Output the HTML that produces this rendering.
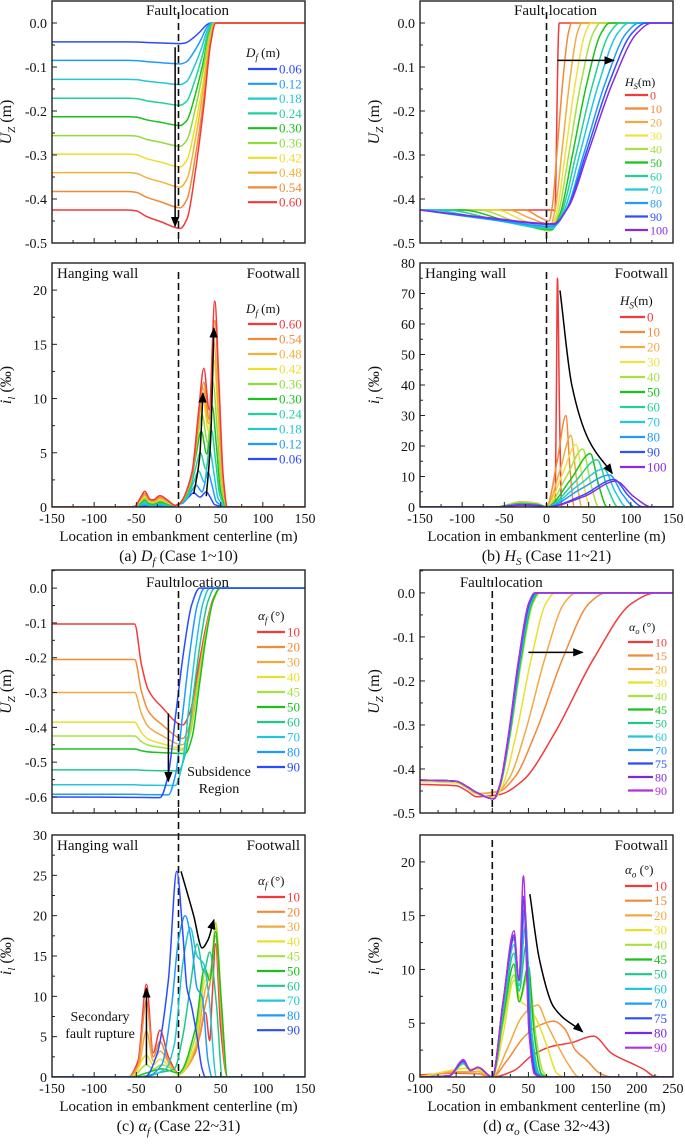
<!DOCTYPE html>
<html><head><meta charset="utf-8">
<style>
html,body{margin:0;padding:0;background:#fff;}
svg, svg text, svg tspan{font-family:"Liberation Serif","Times New Roman",serif;}
</style></head>
<body>
<svg id="fig" width="685" height="1140" viewBox="0 0 685 1140" xmlns="http://www.w3.org/2000/svg" font-family="Liberation Serif, serif">
<defs>
<marker id="ah" viewBox="0 0 10 10" refX="9" refY="5" markerWidth="7" markerHeight="7" orient="auto-start-reverse"><path d="M0,1 L10,5 L0,9 z" fill="#000"/></marker>
</defs>
<rect width="685" height="1140" fill="#fff"/>
</svg>
<script>
// ---------- DATA ----------
const dfLabels=['0.06','0.12','0.18','0.24','0.30','0.36','0.42','0.48','0.54','0.60'];
const aPlateau=[-0.043,-0.085,-0.128,-0.171,-0.213,-0.256,-0.298,-0.340,-0.383,-0.425];
const aMin=[-0.047,-0.093,-0.140,-0.187,-0.233,-0.280,-0.327,-0.373,-0.420,-0.467];
const aZero=[38,39,40,41,42,42,43,43,44,44];
const aP1=[1.3,2.0,3.3,5.0,7.0,8.5,10.0,11.0,11.5,12.8];
const aP1x=[18,21,24,26,27,28,29,29,30,30];
const aP2=[1.4,3.2,5.2,7.1,9.3,11.5,13.5,15.2,17.2,19.0];
const aP2x=[33,35,37,39,40,41,42,42,43,43];
const aHw=[0.1,0.2,0.35,0.5,0.65,0.8,0.95,1.1,1.25,1.45];

const hsLabels=['0','10','20','30','40','50','60','70','80','90','100'];
const bMin=[-0.428,-0.45,-0.458,-0.468,-0.472,-0.470,-0.468,-0.465,-0.462,-0.458,-0.456];
const bMinX=[10,3,5,5,5,6,6,7,8,8,8];
const bZero=[15,30,42,53,64,75,87,98,110,118,125];
const bDrop=[8,-25,-45,-60,-80,-100,-120,-140,-150,-150,-150];
const bPk=[75,30,23.5,20.5,19,17.5,15.5,12.5,10.5,9,8.5];
const bPkX=[13,23,29,35,43,52,60,68,75,80,82];
const bStart=[10,0,0,0,0,0,0,0,0,0,0];
const bEnd=[18,33,42,52,62,72,85,95,105,115,125];
const bShoulder=[35,15,12,11,10,9,8,7,6,4,3.5];
const bHw=[0,1.5,1.7,1.5,1.3,1.2,1.0,0.9,0.8,0.7,0.6];

const afLabels=['10','20','30','40','45','50','60','70','80','90'];
const cPlat=[-0.103,-0.205,-0.300,-0.385,-0.425,-0.462,-0.522,-0.565,-0.592,-0.600];
const cMin=[-0.393,-0.432,-0.450,-0.460,-0.465,-0.475,-0.525,-0.567,-0.594,-0.602];
const cMinX=[5,5,5,5,5,8,0,-4,-12,-22];
const cZero=[50,50,50,50,50,49,43,37,31,25];
const cIl=[
[[-150,0],[-60,0],[-48,2],[-38,11.5],[-30,3],[-22,5.8],[-12,2.5],[0,0.5],[15,2],[25,5],[32,8],[37,4.5],[40,10],[44,16.5],[50,6],[58,0],[150,0]],
[[-150,0],[-60,0],[-48,1.5],[-38,9.5],[-30,2.5],[-22,4.4],[-12,2],[0,0.4],[20,3],[32,9],[38,12],[44,17.5],[50,8],[58,0],[150,0]],
[[-150,0],[-60,0],[-48,1],[-38,5.7],[-30,2],[-22,3.2],[-10,1.5],[0,0.3],[20,3.5],[32,11],[38,13],[44,18.5],[51,8],[58,0],[150,0]],
[[-150,0],[-55,0],[-38,2.7],[-30,1.5],[-22,2.2],[-8,1],[0,0.3],[20,4],[32,12],[38,12],[44,19.2],[51,9],[58,0],[150,0]],
[[-150,0],[-55,0],[-38,1.5],[-30,1],[-20,1.5],[-5,0.8],[0,0.3],[20,5],[32,13],[38,12.5],[44,19],[51,9],[58,0],[150,0]],
[[-150,0],[-55,0],[-38,0.5],[-20,1],[0,0.5],[20,6],[31,13.5],[37,12],[44,18],[51,9],[58,0],[150,0]],
[[-150,0],[-50,0],[-20,0.6],[-5,1],[5,5],[15,12],[22,16.5],[30,13],[37,15.5],[45,9],[52,0],[150,0]],
[[-150,0],[-45,0],[-15,1],[-5,4],[5,14],[14,18.5],[22,15],[30,14],[36,10],[45,0],[150,0]],
[[-150,0],[-40,0],[-20,1.5],[-8,9],[0,17],[8,20],[15,17],[22,11],[28,10],[35,2],[40,0],[150,0]],
[[-150,0],[-40,0],[-25,3],[-12,12],[-2,25.5],[5,18],[10,11],[15,9],[22,5],[28,1],[32,0],[150,0]]
];

const aoLabels=['10','15','20','30','40','45','50','60','70','75','80','90'];
const dLeft=[-0.435,-0.428,-0.428,-0.428,-0.426,-0.425,-0.425,-0.425,-0.425,-0.425,-0.425,-0.425];
const dMin=[-0.458,-0.452,-0.450,-0.465,-0.468,-0.468,-0.468,-0.468,-0.468,-0.468,-0.468,-0.468];
const dMinX=[10,8,8,3,2,2,2,2,2,2,2,2];
const dZero=[226,157,116,87,66,64,63,62,61,60,59,59];
const dIl=[
[[-100,0.2],[-50,0.35],[-20,0.3],[0,0],[30,0.6],[55,2],[80,2.8],[110,3.2],[140,3.8],[165,2.2],[195,1.2],[210,0.7],[225,0.05],[250,0]],
[[-100,0.1],[-50,0.4],[-20,0.3],[0,0],[20,1.5],[45,3.8],[65,4.8],[85,5.2],[100,4.5],[115,2.5],[130,1.6],[150,0.3],[165,0],[250,0]],
[[-100,0.05],[-50,0.5],[-20,0.5],[0,0],[20,2.5],[40,5.5],[55,6.5],[63,6.7],[75,5],[90,3],[105,1.2],[120,0],[250,0]],
[[-100,0],[-50,0.7],[-38,0.8],[-20,0.7],[0,0],[15,4],[30,9],[40,7],[50,6.5],[60,5.5],[75,3],[90,0.3],[100,0],[250,0]],
[[-100,0],[-60,0.1],[-40,1.2],[-30,0.6],[-20,0.9],[0,0],[15,5],[30,9.5],[37,7],[50,9.5],[60,4],[70,0.5],[80,0],[250,0]],
[[-100,0],[-60,0.1],[-40,1.3],[-30,0.6],[-20,0.9],[0,0],[15,5.5],[30,10.5],[37,7],[50,10.3],[58,4],[68,0.3],[78,0],[250,0]],
[[-100,0],[-60,0.1],[-40,1.3],[-30,0.6],[-20,0.9],[0,0],[15,6],[30,11.5],[37,8],[47,12.3],[55,4],[65,0.3],[75,0],[250,0]],
[[-100,0],[-60,0.1],[-40,1.4],[-30,0.6],[-20,0.9],[0,0],[15,6.5],[30,12.3],[37,8.5],[46,14.1],[54,4],[63,0.3],[73,0],[250,0]],
[[-100,0],[-60,0.1],[-40,1.4],[-30,0.6],[-20,0.9],[0,0],[15,7],[30,12.8],[37,9],[45,15.6],[53,4],[62,0.3],[72,0],[250,0]],
[[-100,0],[-60,0.1],[-40,1.5],[-30,0.6],[-20,0.9],[0,0],[15,7],[30,13],[37,9],[44,16.5],[52,4],[60,0.3],[70,0],[250,0]],
[[-100,0],[-60,0.1],[-40,1.5],[-30,0.6],[-20,0.9],[0,0],[15,7],[30,13.2],[37,9],[43,16.8],[51,4],[59,0.3],[69,0],[250,0]],
[[-100,0],[-60,0.1],[-40,1.6],[-30,0.6],[-20,0.9],[0,0],[15,7],[30,13.6],[37,9],[43,18.7],[51,4],[58,0.3],[68,0],[250,0]]
];

const colA=['#2a4bff','#1e9bff','#22c7d6','#1fd19a','#18c21a','#8fdc3a','#eadf2c','#f2b23a','#f28a36','#f23a3a'];
const colB=['#f23a3a','#f28a36','#f2aa40','#f0e040','#a8e040','#18c21a','#22d09a','#22c8e0','#1e9bff','#3050ff','#8a2be2'];
const colC=['#f23a3a','#f28a36','#f2aa40','#eadf2c','#a8e040','#18c21a','#1fc88a','#22c7d6','#1e9bff','#2a4bff'];
const colD=['#f23a3a','#f28a36','#f2aa40','#eadf2c','#a8e040','#18c21a','#1fc88a','#22c7d6','#1e9bff','#2a4bff','#7a2be2','#b030e0'];

// ---------- HELPERS ----------
const NS='http://www.w3.org/2000/svg';
const FONT='Liberation Serif, Times New Roman, serif';
const svg=document.getElementById('fig');
function mk(tag,attrs,parent){const e=document.createElementNS(NS,tag);for(const k in attrs)e.setAttribute(k,attrs[k]);if(tag==='text')e.setAttribute('font-family',FONT);(parent||svg).appendChild(e);return e;}
function txt(str,attrs,parent){const e=mk('text',attrs,parent);e.textContent=str;return e;}
function monoPath(P){
  const n=P.length;if(n<2)return '';
  const dx=[],s=[];
  for(let i=0;i<n-1;i++){dx.push(P[i+1][0]-P[i][0]);s.push((P[i+1][1]-P[i][1])/(dx[i]||1e-6));}
  const m=[s[0]];
  for(let i=1;i<n-1;i++){ if(s[i-1]*s[i]<=0)m.push(0); else m.push(3*(dx[i-1]+dx[i])/((2*dx[i]+dx[i-1])/s[i-1]+(dx[i]+2*dx[i-1])/s[i])); }
  m.push(s[n-2]);
  let d='M'+P[0][0].toFixed(2)+','+P[0][1].toFixed(2);
  for(let i=0;i<n-1;i++){const h=dx[i]/3;
    d+=' C'+(P[i][0]+h).toFixed(2)+','+(P[i][1]+m[i]*h).toFixed(2)+' '+(P[i+1][0]-h).toFixed(2)+','+(P[i+1][1]-m[i+1]*h).toFixed(2)+' '+P[i+1][0].toFixed(2)+','+P[i+1][1].toFixed(2);}
  return d;
}
let clipId=0;
function panel(o){
  const sx=v=>o.x0+(v-o.xd[0])/(o.xd[1]-o.xd[0])*(o.x1-o.x0);
  const sy=v=>o.y1-(v-o.yd[0])/(o.yd[1]-o.yd[0])*(o.y1-o.y0);
  const g=mk('g',{});
  
  
  const cid='c'+(clipId++);
  const cp=mk('clipPath',{id:cid},g);mk('rect',{x:o.x0,y:o.y0,width:o.x1-o.x0,height:o.y1-o.y0},cp);
  const plot=mk('g',{'clip-path':'url(#'+cid+')'},g);
  
  
  for(let v=o.xd[0];v<=o.xd[1]+1e-9;v+=o.xminor){
    const major=Math.abs((v-o.xd[0])%o.xmajor)<1e-6||Math.abs((v-o.xd[0])%o.xmajor-o.xmajor)<1e-6;
    const t=mk('line',{x1:sx(v),x2:sx(v),y1:o.y1,y2:o.y1-(major?5:3),stroke:'#222','stroke-width':1},g);
    
    
    if(major&&o.xlabels){const l=txt(String(Math.round(v)),{x:sx(v),y:o.y1+16,'text-anchor':'middle','font-size':14,fill:'#111'},g);
      
      }
  }
  for(let k=0;k<o.yticks.length;k++){const v=o.yticks[k];
    const t=mk('line',{x1:o.x0,x2:o.x0+5,y1:sy(v),y2:sy(v),stroke:'#222','stroke-width':1},g);
    
    
    const l=txt(o.ylabels[k],{x:o.x0-5,y:sy(v)+5,'text-anchor':'end','font-size':14,fill:'#111'},g);
    
    
    const mv=v+o.ystep/2;
    if(mv<=o.yd[1]){const mt=mk('line',{x1:o.x0,x2:o.x0+3,y1:sy(mv),y2:sy(mv),stroke:'#222','stroke-width':1},g);
      
      }
  }
  return {g,plot,sx,sy,o};
}
function drawSeries(P,series,color,name){
  const path=mk('path',{d:monoPath(series.map(p=>[P.sx(p[0]),P.sy(p[1])])),fill:'none',stroke:color,'stroke-width':1.5},P.plot);
  
  
}
function box(P){
  const o=P.o;
  const r=mk('rect',{x:o.x0,y:o.y0,width:o.x1-o.x0,height:o.y1-o.y0,fill:'none',stroke:'#222','stroke-width':1.4},P.g);
  
  
}
function dashed(P,yTop,yBot){
  const l=mk('line',{x1:P.sx(0),x2:P.sx(0),y1:yTop,y2:yBot,stroke:'#111','stroke-width':1.6,'stroke-dasharray':'7,4'},P.g);
  
  
}
function arrow(P,pts,name){
  const P2=pts.map(p=>[P.sx(p[0]),P.sy(p[1])]);
  let d;
  if(P2.length===2)d='M'+P2[0][0]+','+P2[0][1]+' L'+P2[1][0]+','+P2[1][1];
  else d=monoPath(P2);
  const a=mk('path',{d:d,fill:'none',stroke:'#000','stroke-width':1.5,'marker-end':'url(#ah)'},P.g);
  
  
}
function sym(parent,x,y,main,sub,rest,size,anchor){
  const t=mk('text',{x:x,y:y,'font-size':size,fill:'#111','text-anchor':anchor||'start'},parent);
  const a=mk('tspan',{'font-style':'italic'},t);a.textContent=main;
  const b=mk('tspan',{'font-size':size*0.7,dy:size*0.25,'font-style':'italic'},t);b.textContent=sub;
  const c=mk('tspan',{dy:-size*0.25},t);c.textContent=rest;
  return t;
}
function legend(P,cfg){
  const g=mk('g',{},P.g);
  
  
  const tt=sym(g,cfg.tx,cfg.ty,cfg.main,cfg.sub,cfg.rest,cfg.ts,'start');
  
  
  cfg.order.forEach((idx,k)=>{
    const y=cfg.y0+k*cfg.step;
    const ln=mk('line',{x1:cfg.l0,x2:cfg.l1,y1:y,y2:y,stroke:cfg.colors[idx],'stroke-width':2.2},g);
    
    
    const t=txt(cfg.labels[idx],{x:cfg.l1+2,y:y+4.5,'font-size':cfg.fs,fill:cfg.colors[idx]},g);
    
    
  });
}
function label(P,str,x,y,anchor,size){
  const t=txt(str,{x:x,y:y,'text-anchor':anchor,'font-size':size||15,fill:'#111'},P.g);
  
  
  return t;
}
function yTitle(P,kind){
  const o=P.o,cx=o.x0-41,cy=(o.y0+o.y1)/2;
  const t=mk('text',{x:cx,y:cy,'text-anchor':'middle','font-size':16,fill:'#111',transform:'rotate(-90 '+cx+' '+cy+')'},P.g);
  
  
  const a=mk('tspan',{'font-style':'italic'},t);
  const b=mk('tspan',{'font-size':11,dy:4,'font-style':'italic'},t);
  const c=mk('tspan',{dy:-4},t);
  if(kind==='u'){a.textContent='U';b.textContent='Z';c.textContent=' (m)';}
  else {a.textContent='i';b.textContent='l';c.textContent=' (‰)';}
}
function xTitle(P,caption){
  const o=P.o,cx=(o.x0+o.x1)/2;
  const t=txt('Location in embankment centerline (m)',{x:cx,y:o.y1+34,'text-anchor':'middle','font-size':15,fill:'#111'},P.g);
  
  
  const c=mk('text',{x:cx,y:o.y1+54,'text-anchor':'middle','font-size':16,fill:'#111'},P.g);
  
  
  const s1=mk('tspan',{},c);s1.textContent=caption[0];
  const s2=mk('tspan',{'font-style':'italic'},c);s2.textContent=caption[1];
  const s3=mk('tspan',{'font-size':11,dy:4,'font-style':'italic'},c);s3.textContent=caption[2];
  const s4=mk('tspan',{dy:-4},c);s4.textContent=caption[3];
}
const uLab5=['0.0','-0.1','-0.2','-0.3','-0.4','-0.5'];
const uTick5=[0,-0.1,-0.2,-0.3,-0.4,-0.5];
const range=n=>Array.from({length:n},(_,i)=>i);

// ---------- PANEL (a) ----------
{
const P=panel({name:'panel-a-displacement',x0:52,x1:305,y0:1,y1:243,xd:[-150,150],yd:[-0.5,0.05],xmajor:50,xminor:25,xlabels:false,yticks:uTick5,ylabels:uLab5,ystep:0.1});
range(10).forEach(i=>{
  const p=aPlateau[i],m=aMin[i],d=m-p,z=aZero[i];
  const pts=[[-150,p],[-60,p],[-50,p+0.05*d],[-38,p+0.35*d],[-20,p+0.65*d],[2,m]];
  [0.2,0.43,0.67,0.86,1].forEach((k,j)=>pts.push([2+(z-2)*k,m*[0.95,0.72,0.4,0.1,0][j]]));
  pts.push([z+10,0],[150,0]);
  drawSeries(P,pts,colA[i],'uz-df-'+dfLabels[i]);
});
dashed(P,12,243);
arrow(P,[[-4,-0.055],[-4,-0.462]],'trend-arrow');
label(P,'Fault location',P.sx(0)+9,15,'middle',15);
legend(P,{tx:246,ty:57,main:'D',sub:'f',rest:' (m)',ts:13,y0:69,step:14.8,l0:248,l1:277,fs:13,labels:dfLabels,colors:colA,order:range(10)});
yTitle(P,'u');box(P);
}
{
const P=panel({name:'panel-a-slope',x0:52,x1:305,y0:263,y1:507,xd:[-150,150],yd:[0,22.5],xmajor:50,xminor:25,xlabels:true,yticks:[0,5,10,15,20],ylabels:['0','5','10','15','20'],ystep:5});
range(10).forEach(i=>{
  const hw=aHw[i],p1=aP1[i],p2=aP2[i],x1=aP1x[i],x2=aP2x[i];
  const pts=[[-150,0],[-60,0],[-52,0.05],[-44,hw*0.7],[-40,hw],[-34,hw*0.5],[-30,hw*0.45],[-22,hw*0.72],[-12,hw*0.4],[-4,0.15],[0,0.25],[x1-14,p1*0.25],[x1-6,p1*0.7],[x1,p1],[(x1+x2)/2,0.7*Math.min(p1,p2)],[x2,p2],[x2+5,p2*0.6],[x2+10,p2*0.15],[58,0],[150,0]];
  drawSeries(P,pts,colA[i],'il-df-'+dfLabels[i]);
});
dashed(P,272,507);
arrow(P,[[18,1.2],[25,4.5],[29,10.5]],'trend-arrow-1');
arrow(P,[[33,1.0],[38,6],[42,16.5]],'trend-arrow-2');
label(P,'Hanging wall',57,278,'start',15);
label(P,'Footwall',300,278,'end',15);
legend(P,{tx:246,ty:313,main:'D',sub:'f',rest:' (m)',ts:13,y0:324,step:15,l0:248,l1:277,fs:13,labels:dfLabels,colors:colA,order:range(10).reverse()});
yTitle(P,'i');xTitle(P,['(a) ','D','f',' (Case 1~10)']);box(P);
}

// ---------- PANEL (b) ----------
{
const P=panel({name:'panel-b-displacement',x0:420,x1:673,y0:1,y1:243,xd:[-150,150],yd:[-0.5,0.05],xmajor:50,xminor:25,xlabels:false,yticks:uTick5,ylabels:uLab5,ystep:0.1});
range(11).forEach(i=>{
  const m=bMin[i],xm=bMinX[i],z=bZero[i],dr=bDrop[i],d=m+0.425;
  const pts=[[-150,-0.425]];
  if(dr>-150)pts.push([dr,-0.425]);
  const mid=(Math.max(dr,-150)+xm)/2;
  if(i>0)pts.push([mid,-0.425+0.55*d]);
  pts.push([xm,m]);
  [0.15,0.35,0.6,0.85,1].forEach((k,j)=>pts.push([xm+(z-xm)*k,m*[0.92,0.65,0.3,0.05,0][j]]));
  pts.push([z+8,0],[150,0]);
  drawSeries(P,pts,colB[i],'uz-hs-'+hsLabels[i]);
});
dashed(P,12,243);
arrow(P,[[13,-0.085],[80,-0.085]],'trend-arrow');
label(P,'Fault location',P.sx(0)+9,15,'middle',15);
legend(P,{tx:625,ty:86,main:'H',sub:'S',rest:'(m)',ts:12,y0:95,step:13.5,l0:625,l1:648,fs:12,labels:hsLabels,colors:colB,order:range(11)});
yTitle(P,'u');box(P);
}
{
const P=panel({name:'panel-b-slope',x0:420,x1:673,y0:263,y1:507,xd:[-150,150],yd:[0,80],xmajor:50,xminor:25,xlabels:true,yticks:[0,10,20,30,40,50,60,70,80],ylabels:['0','10','20','30','40','50','60','70','80'],ystep:10});
range(11).forEach(i=>{
  const st=bStart[i],pk=bPk[i],px=bPkX[i],en=bEnd[i],hw=bHw[i];
  const pts=[[-150,0],[-60,0],[-30,hw],[-10,hw*0.7]];
  if(st>0)pts.push([0,0.05]);
  pts.push([st+0.01,0],[st+0.55*(px-st),bShoulder[i]],[px,pk],[px+0.5*(en-px),pk*0.4],[en,0],[150,0]);
  drawSeries(P,pts,colB[i],'il-hs-'+hsLabels[i]);
});
dashed(P,272,507);
arrow(P,[[16,71],[30,40],[50,22],[78,11]],'trend-arrow');
label(P,'Hanging wall',425,278,'start',15);
label(P,'Footwall',668,278,'end',15);
legend(P,{tx:620,ty:305,main:'H',sub:'S',rest:'(m)',ts:13,y0:317,step:15,l0:620,l1:645,fs:13,labels:hsLabels,colors:colB,order:range(11)});
yTitle(P,'i');xTitle(P,['(b) ','H','S',' (Case 11~21)']);box(P);
}

// ---------- PANEL (c) ----------
{
const P=panel({name:'panel-c-displacement',x0:52,x1:305,y0:570,y1:813,xd:[-150,150],yd:[-0.646,0.052],xmajor:50,xminor:25,xlabels:false,yticks:[0,-0.1,-0.2,-0.3,-0.4,-0.5,-0.6],ylabels:['0.0','-0.1','-0.2','-0.3','-0.4','-0.5','-0.6'],ystep:0.1});
range(10).forEach(i=>{
  const p=cPlat[i],m=cMin[i],d=m-p,xm=cMinX[i],z=cZero[i];
  let pts;
  if(xm>-15)pts=[[-150,p],[-52,p],[-44,p+0.4*d],[-36,p+0.65*d],[-20,p+0.82*d],[xm,m]];
  else pts=[[-150,p],[xm-15,p+0.7*d],[xm,m]];
  [0.2,0.4,0.6,0.8,1].forEach((k,j)=>pts.push([xm+(z-xm)*k,m*[0.9,0.6,0.3,0.08,0][j]]));
  pts.push([z+10,0],[150,0]);
  drawSeries(P,pts,colC[i],'uz-af-'+afLabels[i]);
});
dashed(P,580,1077);
arrow(P,[[-12,-0.36],[-12,-0.555]],'trend-arrow');
label(P,'Fault location',P.sx(0)+9,587,'middle',15);
label(P,'Subsidence',219,776,'middle',14);
label(P,'Region',219,793,'middle',14);
legend(P,{tx:258,ty:620,main:'α',sub:'f',rest:' (°)',ts:13,y0:632,step:15,l0:257,l1:285,fs:13,labels:afLabels,colors:colC,order:range(10)});
yTitle(P,'u');box(P);
}
{
const P=panel({name:'panel-c-slope',x0:52,x1:305,y0:835,y1:1077,xd:[-150,150],yd:[0,30],xmajor:50,xminor:25,xlabels:true,yticks:[0,5,10,15,20,25,30],ylabels:['0','5','10','15','20','25','30'],ystep:5});
range(10).forEach(i=>drawSeries(P,cIl[i],colC[i],'il-af-'+afLabels[i]));
arrow(P,[[-38,1.5],[-38,11]],'trend-arrow-1');
arrow(P,[[3,25.5],[18,20],[28,16],[35,17],[42,19.5]],'trend-arrow-2');
label(P,'Hanging wall',57,850,'start',15);
label(P,'Footwall',300,850,'end',15);
label(P,'Secondary',100,1021,'middle',14);
label(P,'fault rupture',100,1038,'middle',14);
legend(P,{tx:258,ty:885,main:'α',sub:'f',rest:' (°)',ts:13,y0:897,step:14.8,l0:257,l1:285,fs:13,labels:afLabels,colors:colC,order:range(10)});
yTitle(P,'i');xTitle(P,['(c) ','α','f',' (Case 22~31)']);box(P);
}

// ---------- PANEL (d) ----------
{
const P=panel({name:'panel-d-displacement',x0:420,x1:673,y0:570,y1:813,xd:[-100,250],yd:[-0.5,0.052],xmajor:50,xminor:25,xlabels:false,yticks:uTick5,ylabels:uLab5,ystep:0.1});
range(12).forEach(i=>{
  const L=dLeft[i],m=dMin[i],xm=dMinX[i],z=dZero[i];
  const pts=[[-100,L],[-50,L-0.003],[-35,L-0.015],[-22,L-0.028],[xm,m]];
  [0.15,0.35,0.6,0.85,1].forEach((k,j)=>pts.push([xm+(z-xm)*k,m*[0.93,0.7,0.33,0.05,0][j]]));
  if(z+8<250)pts.push([z+8,0]);
  pts.push([250,0]);
  drawSeries(P,pts,colD[i],'uz-ao-'+aoLabels[i]);
});
dashed(P,580,813);
arrow(P,[[50,-0.135],[125,-0.135]],'trend-arrow');
label(P,'Fault location',P.sx(0)+9,587,'middle',15);
legend(P,{tx:629,ty:631,main:'α',sub:'o',rest:' (°)',ts:12,y0:642,step:13.5,l0:628,l1:653,fs:12,labels:aoLabels,colors:colD,order:range(12)});
yTitle(P,'u');box(P);
}
{
const P=panel({name:'panel-d-slope',x0:420,x1:673,y0:835,y1:1077,xd:[-100,250],yd:[0,22.5],xmajor:50,xminor:25,xlabels:true,yticks:[0,5,10,15,20],ylabels:['0','5','10','15','20'],ystep:5});
range(12).forEach(i=>drawSeries(P,dIl[i],colD[i],'il-ao-'+aoLabels[i]));
dashed(P,840,1077);
arrow(P,[[52,17],[65,11],[85,6.5],[125,4.2]],'trend-arrow');
label(P,'Footwall',668,850,'end',15);
legend(P,{tx:625,ty:874,main:'α',sub:'o',rest:' (°)',ts:13,y0:886,step:14.7,l0:625,l1:652,fs:13,labels:aoLabels,colors:colD,order:range(12)});
yTitle(P,'i');xTitle(P,['(d) ','α','o',' (Case 32~43)']);box(P);
}
</script>
</body></html>
